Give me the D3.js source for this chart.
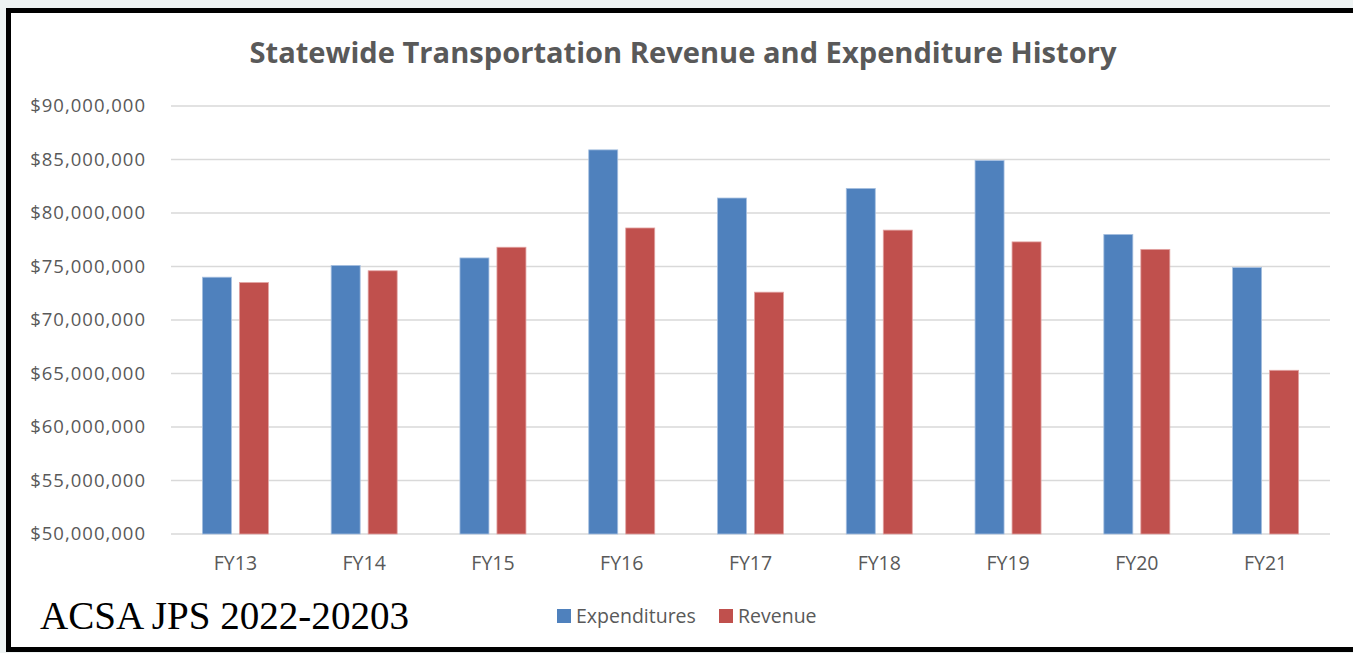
<!DOCTYPE html>
<html>
<head>
<meta charset="utf-8">
<script src="https://cdn.jsdelivr.net/npm/d3@7"></script>
<style>
  body { margin: 0; background: #eef3f3; }
  svg { display: block; }
</style>
</head>
<body>
<svg id="chart"></svg>
<script>
// data
const categories = ['FY13','FY14','FY15','FY16','FY17','FY18','FY19','FY20','FY21'];
const expenditures = [74.0, 75.1, 75.8, 85.9, 81.4, 82.3, 84.9, 78.0, 74.9].map(d => d * 1e6);
const revenue = [73.5, 74.6, 76.8, 78.6, 72.6, 78.4, 77.3, 76.6, 65.3].map(d => d * 1e6);
const seriesNames = ['Expenditures', 'Revenue'];
const seriesColors = ['#4f81bd', '#c0504d'];
const yTicks = [50e6, 55e6, 60e6, 65e6, 70e6, 75e6, 80e6, 85e6, 90e6];

const width = 1353, height = 653;
const margin = {top: 106, right: 23, bottom: 119, left: 171};

const svg = d3.select('#chart')
  .attr('width', width)
  .attr('height', height);

// frame
svg.append('rect')
  .attr('x', 8.5).attr('y', 10.5)
  .attr('width', width + 20).attr('height', 639)
  .attr('fill', '#fff')
  .attr('stroke', '#000')
  .attr('stroke-width', 5);

const inner_width = width - margin.left - margin.right;
const inner_height = height - margin.top - margin.bottom;

const chart = svg.append('g')
  .attr('transform', `translate(${margin.left}, ${margin.top})`);

const xscale = d3.scaleBand()
  .domain(categories)
  .range([0, inner_width]);

const yscale = d3.scaleLinear()
  .domain([50e6, 90e6])
  .range([inner_height, 0]);

// grid
chart.append('g')
  .selectAll('line')
  .data(yTicks)
  .join('line')
  .attr('x1', 0).attr('x2', inner_width)
  .attr('y1', d => yscale(d)).attr('y2', d => yscale(d))
  .attr('stroke', '#d9d9d9')
  .attr('stroke-width', 1.5);

// y axis
const fmt = d => '$' + d3.format(',')(d);
const yaxis = d3.axisLeft(yscale)
  .tickValues(yTicks)
  .tickFormat(fmt)
  .tickSize(0)
  .tickPadding(25);
const yg = chart.append('g').call(yaxis);
yg.select('.domain').remove();
yg.selectAll('text')
  .attr('fill', '#595959')
  .style('font-family', 'Open Sans, sans-serif')
  .style('font-size', '18.5px')
  .style('letter-spacing', '1px');

// x axis
const xaxis = d3.axisBottom(xscale).tickSize(0).tickPadding(22);
const xg = chart.append('g')
  .attr('transform', `translate(0, ${inner_height})`)
  .call(xaxis);
xg.select('.domain').remove();
xg.selectAll('text')
  .attr('fill', '#595959')
  .style('font-family', 'Open Sans, sans-serif')
  .style('font-size', '19.5px');

// bars
const barW = 29, barGap = 8;
const series = [expenditures, revenue];
series.forEach((vals, si) => {
  chart.append('g')
    .selectAll('rect')
    .data(vals)
    .join('rect')
    .attr('x', (d, i) => xscale(categories[i]) + xscale.bandwidth() / 2 - barW - barGap / 2 + si * (barW + barGap))
    .attr('y', d => yscale(d))
    .attr('width', barW)
    .attr('height', d => inner_height - yscale(d))
    .attr('fill', seriesColors[si])
    .attr('stroke', si === 0 ? '#a7c0e0' : '#e2a3a2')
    .attr('stroke-width', 0.8);
});

// title
svg.append('text')
  .attr('x', 683).attr('y', 63)
  .attr('text-anchor', 'middle')
  .attr('fill', '#595959')
  .style('font-family', 'Open Sans, sans-serif')
  .style('font-weight', 'bold')
  .style('font-size', '29px')
  .attr('textLength', 867)
  .attr('lengthAdjust', 'spacingAndGlyphs')
  .text('Statewide Transportation Revenue and Expenditure History');

// legend
const legend = svg.append('g');
const legendX = [557, 719];
seriesNames.forEach((name, i) => {
  legend.append('rect')
    .attr('x', legendX[i]).attr('y', 609)
    .attr('width', 14).attr('height', 14)
    .attr('fill', seriesColors[i]);
  legend.append('text')
    .attr('x', legendX[i] + 19).attr('y', 623)
    .attr('fill', '#595959')
    .style('font-family', 'Open Sans, sans-serif')
    .style('font-size', '19.5px')
    .text(name);
});

// bottom note
svg.append('text')
  .attr('x', 40).attr('y', 629)
  .attr('fill', '#000')
  .style('font-family', 'Liberation Serif, serif')
  .style('font-size', '40px')
  .attr('textLength', 369)
  .attr('lengthAdjust', 'spacingAndGlyphs')
  .text('ACSA JPS 2022-20203');
</script>
</body>
</html>
